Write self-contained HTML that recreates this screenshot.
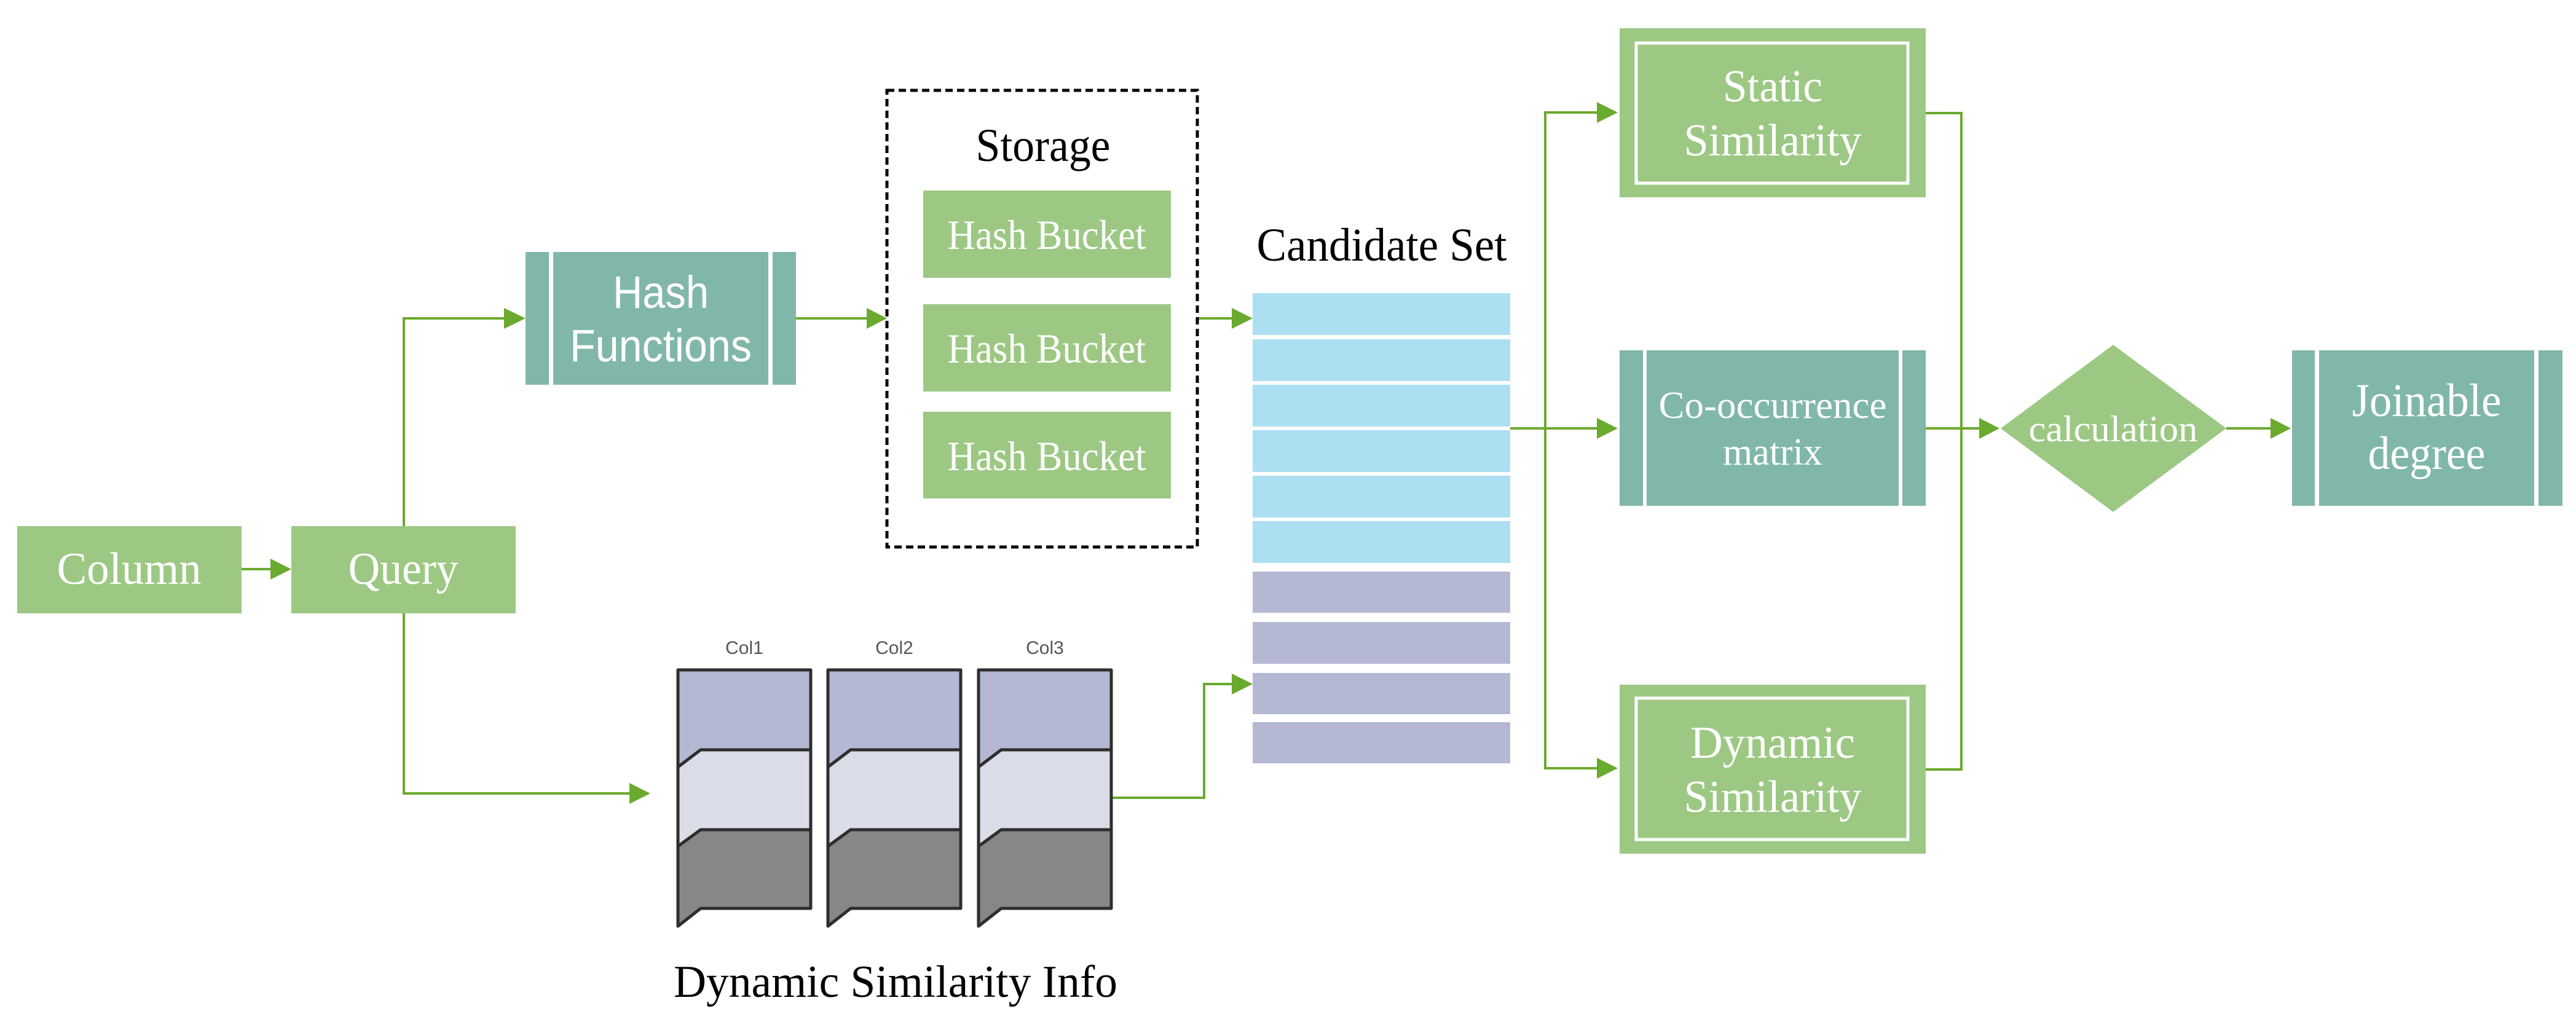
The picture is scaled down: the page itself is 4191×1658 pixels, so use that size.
<!DOCTYPE html>
<html><head><meta charset="utf-8"><style>html,body{margin:0;padding:0;background:#fff}svg{display:block}</style></head><body>
<svg width="4191" height="1658" viewBox="0 0 4191 1658" xmlns="http://www.w3.org/2000/svg">
<defs>
<marker id="ah" markerWidth="12" markerHeight="12" refX="11" refY="6" orient="auto" markerUnits="userSpaceOnUse" viewBox="0 0 12 12"><path d="M0,0 L12,6 L0,12 z" fill="#6aaa2e"/></marker>
</defs>
<style>
.ln{fill:none;stroke:#6aaa2e;stroke-width:4}
.wt{fill:#fff;font-family:"Liberation Serif",serif;text-anchor:middle}
.ws{fill:#fff;font-family:"Liberation Sans",sans-serif;text-anchor:middle}
.bk{fill:#000;font-family:"Liberation Serif",serif;text-anchor:middle}
</style>
<g fill="#6aaa2e">
<path d="M1,1"/>
</g>
<!-- connectors -->
<g class="ln">
<line x1="393" y1="926" x2="440" y2="926"/>
<polyline points="657,856 657,518 820,518"/>
<polyline points="657,998 657,1291 1024,1291"/>
<line x1="1295" y1="518" x2="1410" y2="518"/>
<line x1="1948" y1="518" x2="2004" y2="518"/>
<polyline points="1809,1298 1959,1298 1959,1113 2004,1113"/>
<line x1="2457" y1="697" x2="2598" y2="697"/>
<polyline points="2598,183 2514,183 2514,1250 2598,1250"/>
<polyline points="3133,184 3191,184 3191,1252 3133,1252"/>
<line x1="3133" y1="697" x2="3220" y2="697"/>
<line x1="3622" y1="697" x2="3694" y2="697"/>
</g>
<g fill="#6aaa2e">
<path d="M440,909 L474,926 L440,943z"/>
<path d="M820,501 L855,518 L820,535z"/>
<path d="M1024,1274 L1058,1291 L1024,1308z"/>
<path d="M1410,501 L1443,518 L1410,535z"/>
<path d="M2004,501 L2038,518 L2004,535z"/>
<path d="M2004,1096 L2038,1113 L2004,1130z"/>
<path d="M2598,166 L2632,183 L2598,200z"/>
<path d="M2598,680 L2632,697 L2598,714z"/>
<path d="M2598,1233 L2632,1250 L2598,1267z"/>
<path d="M3220,680 L3253,697 L3220,714z"/>
<path d="M3694,680 L3727,697 L3694,714z"/>
</g>
<!-- Column / Query -->
<rect x="28" y="856" width="365" height="142" fill="#9dc884"/>
<text class="wt" x="210" y="950" font-size="74" textLength="235" lengthAdjust="spacingAndGlyphs">Column</text>
<rect x="474" y="856" width="365" height="142" fill="#9dc884"/>
<text class="wt" x="656" y="950" font-size="74" textLength="179" lengthAdjust="spacingAndGlyphs">Query</text>
<!-- Hash functions -->
<rect x="855" y="410" width="440" height="216" fill="#80b7a9"/>
<rect x="893" y="410" width="7" height="216" fill="#fff"/>
<rect x="1250" y="410" width="7" height="216" fill="#fff"/>
<text class="ws" x="1075" y="501" font-size="74" textLength="156" lengthAdjust="spacingAndGlyphs">Hash</text>
<text class="ws" x="1075" y="588" font-size="74" textLength="296" lengthAdjust="spacingAndGlyphs">Functions</text>
<!-- Storage -->
<rect x="1443" y="147" width="505" height="743" fill="none" stroke="#000" stroke-width="5" stroke-dasharray="12,7"/>
<text class="bk" x="1697" y="262" font-size="76" textLength="219" lengthAdjust="spacingAndGlyphs">Storage</text>
<rect x="1502" y="310" width="403" height="142" fill="#9dc884"/>
<rect x="1502" y="495" width="403" height="142" fill="#9dc884"/>
<rect x="1502" y="670" width="403" height="141" fill="#9dc884"/>
<text class="wt" x="1703" y="405" font-size="68" textLength="323" lengthAdjust="spacingAndGlyphs">Hash Bucket</text>
<text class="wt" x="1703" y="590" font-size="68" textLength="323" lengthAdjust="spacingAndGlyphs">Hash Bucket</text>
<text class="wt" x="1703" y="765" font-size="68" textLength="323" lengthAdjust="spacingAndGlyphs">Hash Bucket</text>
<!-- Candidate set -->
<text class="bk" x="2248" y="424" font-size="76" textLength="407" lengthAdjust="spacingAndGlyphs">Candidate Set</text>
<g fill="#addff3">
<rect x="2038" y="477" width="419" height="68"/>
<rect x="2038" y="552" width="419" height="68"/>
<rect x="2038" y="626" width="419" height="68"/>
<rect x="2038" y="700" width="419" height="68"/>
<rect x="2038" y="774" width="419" height="68"/>
<rect x="2038" y="848" width="419" height="68"/>
</g>
<g fill="#b4b8d3">
<rect x="2038" y="930" width="419" height="67"/>
<rect x="2038" y="1012" width="419" height="68"/>
<rect x="2038" y="1095" width="419" height="67"/>
<rect x="2038" y="1175" width="419" height="67"/>
</g>
<!-- Columns -->
<g stroke="#2e2e2e" stroke-width="5" stroke-linejoin="round">
<g id="c1">
<path d="M1103,1090 L1319,1090 L1319,1220 L1140,1220 L1103,1248 Z" fill="#b4b8d3"/>
<path d="M1103,1248 L1140,1220 L1319,1220 L1319,1350 L1140,1350 L1103,1377 Z" fill="#dadce8"/>
<path d="M1103,1377 L1140,1350 L1319,1350 L1319,1478 L1140,1478 L1103,1507 Z" fill="#878787"/>
</g>
<use href="#c1" x="244"/>
<use href="#c1" x="489"/>
</g>
<g fill="#555" font-family="Liberation Sans,sans-serif" font-size="30" text-anchor="middle">
<text x="1211" y="1064">Col1</text>
<text x="1455" y="1064">Col2</text>
<text x="1700" y="1064">Col3</text>
</g>
<text class="bk" x="1457" y="1622" font-size="74" textLength="722" lengthAdjust="spacingAndGlyphs">Dynamic Similarity Info</text>
<!-- Static similarity -->
<rect x="2635" y="46" width="498" height="275" fill="#9dc884"/>
<rect x="2662" y="70" width="442" height="228" fill="none" stroke="#fff" stroke-width="5"/>
<text class="wt" x="2884" y="165" font-size="74" textLength="162" lengthAdjust="spacingAndGlyphs">Static</text>
<text class="wt" x="2884" y="253" font-size="74" textLength="289" lengthAdjust="spacingAndGlyphs">Similarity</text>
<!-- Co-occurrence -->
<rect x="2635" y="570" width="498" height="253" fill="#80b7a9"/>
<rect x="2673" y="570" width="6" height="253" fill="#fff"/>
<rect x="3089" y="570" width="6" height="253" fill="#fff"/>
<text class="wt" x="2884" y="680" font-size="62" textLength="371" lengthAdjust="spacingAndGlyphs">Co-occurrence</text>
<text class="wt" x="2884" y="756" font-size="62" textLength="162" lengthAdjust="spacingAndGlyphs">matrix</text>
<!-- Dynamic similarity -->
<rect x="2635" y="1114" width="498" height="275" fill="#9dc884"/>
<rect x="2662" y="1136" width="442" height="230" fill="none" stroke="#fff" stroke-width="5"/>
<text class="wt" x="2884" y="1233" font-size="74" textLength="268" lengthAdjust="spacingAndGlyphs">Dynamic</text>
<text class="wt" x="2884" y="1321" font-size="74" textLength="289" lengthAdjust="spacingAndGlyphs">Similarity</text>
<!-- Diamond -->
<path d="M3438,561 L3622,697 L3438,833 L3255,697 Z" fill="#9dc884"/>
<text class="wt" x="3438" y="718" font-size="60" textLength="275" lengthAdjust="spacingAndGlyphs">calculation</text>
<!-- Joinable -->
<rect x="3729" y="570" width="440" height="253" fill="#80b7a9"/>
<rect x="3766" y="570" width="7" height="253" fill="#fff"/>
<rect x="4123" y="570" width="7" height="253" fill="#fff"/>
<text class="wt" x="3948" y="677" font-size="76" textLength="243" lengthAdjust="spacingAndGlyphs">Joinable</text>
<text class="wt" x="3948" y="763" font-size="76" textLength="191" lengthAdjust="spacingAndGlyphs">degree</text>
</svg>
</body></html>
